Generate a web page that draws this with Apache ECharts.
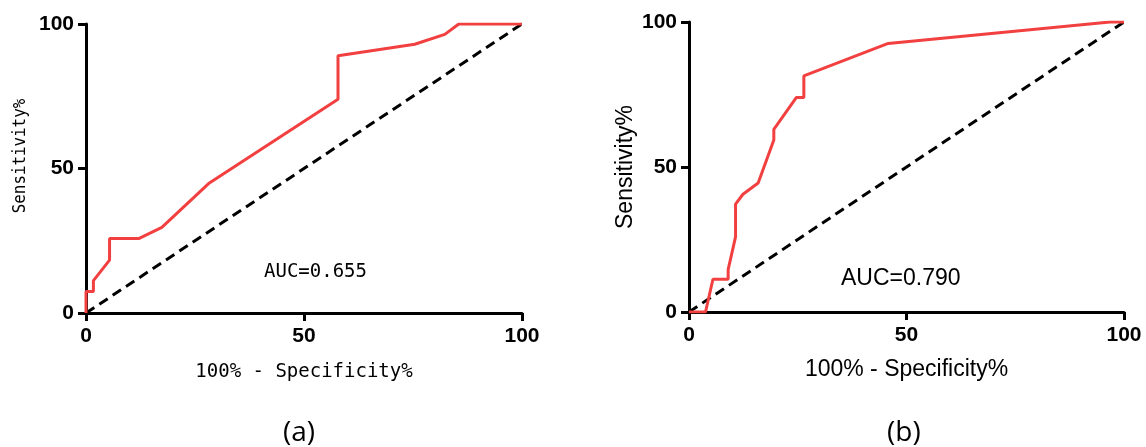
<!DOCTYPE html>
<html>
<head>
<meta charset="utf-8">
<script src="https://cdn.jsdelivr.net/npm/echarts@6/dist/echarts.min.js"></script>
<style>
  html, body { margin: 0; padding: 0; background: #fff; }
  #chart { width: 1146px; height: 447px; }
</style>
</head>
<body>
<div id="chart"></div>
<script>
// ROC (a)
var fprA = [0, 0, 1.7, 1.7, 5.4, 5.4, 12.2, 17.4, 28.3, 57.8, 57.8, 75.4, 82.3, 85.5, 100];
var tprA = [0, 7.4, 7.4, 11.2, 18.3, 25.8, 25.8, 29.6, 45, 74, 89, 93, 96.4, 100, 100];
// ROC (b)
var fprB = [0, 3.8, 5.5, 9.0, 9.0, 10.7, 10.7, 12.4, 15.9, 19.5, 19.5, 24.7, 26.4, 26.4, 45.8, 96.8, 100];
var tprB = [0, 0, 11.3, 11.3, 14.6, 25.9, 37.2, 40.6, 44.5, 59.3, 63, 74, 74, 81.4, 92.6, 100, 100];
var refX = [0, 100];
var refY = [0, 100];
var aucA = "AUC=0.655";
var aucB = "AUC=0.790";
var xTitle = "100% - Specificity%";
var yTitle = "Sensitivity%";

function pairs(xs, ys) {
  return xs.map(function (x, i) { return [x, ys[i]]; });
}

var myChart = echarts.init(document.getElementById("chart"));

var tickLabel = { fontFamily: "Liberation Sans", fontWeight: "bold", fontSize: 21, color: "#000" };
var lineBlack = { lineStyle: { color: "#000", width: 3 } };

function xAx(idx, name, font, size, gap) {
  return {
    gridIndex: idx, type: "value", min: 0, max: 100, interval: 50,
    axisLine: lineBlack,
    axisTick: { show: true, length: 8, lineStyle: { color: "#000", width: 3 } },
    axisLabel: Object.assign({ margin: 13 }, tickLabel),
    splitLine: { show: false },
    name: name, nameLocation: "middle", nameGap: gap,
    nameTextStyle: { fontFamily: font, fontSize: size, color: "#000" }
  };
}
function yAx(idx, name, font, size, gap) {
  return {
    gridIndex: idx, type: "value", min: 0, max: 100, interval: 50,
    axisLine: lineBlack,
    axisTick: { show: true, length: 8, lineStyle: { color: "#000", width: 3 } },
    axisLabel: Object.assign({ margin: 12 }, tickLabel),
    splitLine: { show: false },
    name: name, nameLocation: "middle", nameGap: gap,
    nameTextStyle: { fontFamily: font, fontSize: size, color: "#000" }
  };
}

myChart.setOption({
  animation: false,
  grid: [
    { left: 86, top: 24, width: 436, height: 289 },
    { left: 689, top: 22, width: 435, height: 290 }
  ],
  xAxis: [
    xAx(0, xTitle, "DejaVu Sans Mono", 19, 50),
    xAx(1, xTitle, "Liberation Sans", 23, 46)
  ],
  yAxis: [
    yAx(0, "", "DejaVu Sans Mono", 19, 58),
    yAx(1, yTitle, "Liberation Sans", 23, 52)
  ],
  series: [
    {
      type: "line", xAxisIndex: 0, yAxisIndex: 0, data: pairs(refX, refY),
      showSymbol: false, lineStyle: { color: "#000", width: 3, type: [10, 6] }
    },
    {
      type: "line", xAxisIndex: 0, yAxisIndex: 0, data: pairs(fprA, tprA),
      showSymbol: false, lineStyle: { color: "#f24040", width: 3 }
    },
    {
      type: "line", xAxisIndex: 1, yAxisIndex: 1, data: pairs(refX, refY),
      showSymbol: false, lineStyle: { color: "#000", width: 3, type: [10, 6] }
    },
    {
      type: "line", xAxisIndex: 1, yAxisIndex: 1, data: pairs(fprB, tprB),
      showSymbol: false, lineStyle: { color: "#f24040", width: 3 }
    }
  ],
  graphic: [
    // left y title sits a bit above the axis middle in the original
    {
      type: "text", x: 20, y: 156, rotation: Math.PI / 2, scaleX: 0.88,
      style: { text: yTitle, font: "18px 'DejaVu Sans Mono'", fill: "#000", align: "center", verticalAlign: "middle" }
    },
    { type: "text", left: 264, top: 263, style: { text: aucA, font: "19px 'DejaVu Sans Mono'", fill: "#000" } },
    { type: "text", left: 841, top: 267, style: { text: aucB, font: "23px 'Liberation Sans'", fill: "#000" } },
    { type: "text", left: 283, top: 419, style: { text: "(a)", font: "28px 'Open Sans'", fill: "#000" } },
    { type: "text", left: 887, top: 419, style: { text: "(b)", font: "28px 'Open Sans'", fill: "#000" } }
  ]
});
</script>
</body>
</html>
